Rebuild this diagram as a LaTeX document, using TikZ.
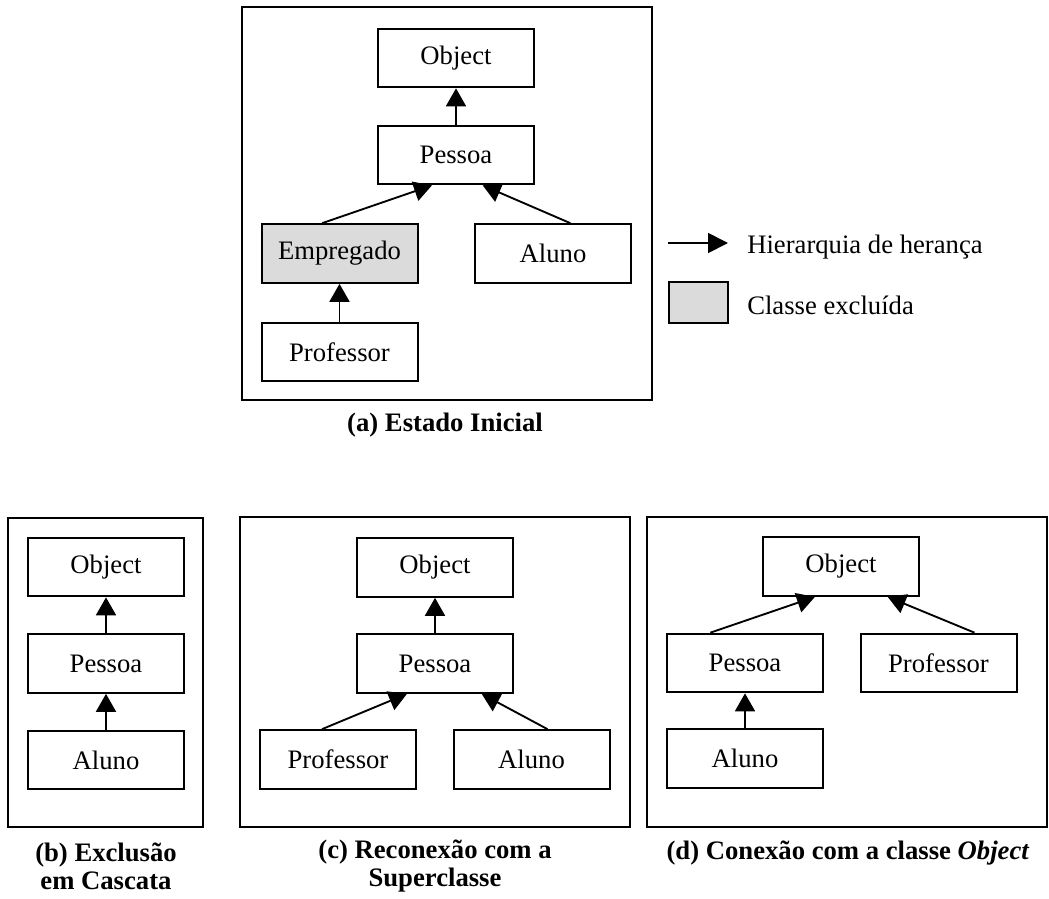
\documentclass[tikz,border=0pt]{standalone}
\usepackage{fontspec}
\setmainfont{Liberation Serif}
\usetikzlibrary{arrows.meta}

\begin{document}
\begin{tikzpicture}[x=0.75pt,y=0.75pt,yscale=-1,xscale=1,
  classbox/.style={draw, line width=1.5pt, minimum width=117pt, minimum height=44pt, inner sep=0pt, font=\fontsize{20}{24}\selectfont},
  deleted/.style={classbox, fill=black!14},
  inherit/.style={line width=1.4pt, -{Triangle[length=13.5pt,width=15pt]}},
  panelframe/.style={line width=1.6pt},
  caption/.style={inner sep=0pt, align=center, font=\fontsize{20}{21}\selectfont\bfseries},
  legendtext/.style={anchor=west, inner sep=0pt, font=\fontsize{20}{24}\selectfont}]
\useasboundingbox (0,0) rectangle (1049,899);

%Panel (a)
\draw [panelframe] (242,7) rectangle (652,400);
\node [classbox] (aObj) at (456,58) {Object};
\node [classbox] (aPes) at (456,155) {Pessoa};
\node [deleted] (aEmp) at (339.5,253.5) {Empregado};
\node [classbox] (aAlu) at (553,253.5) {Aluno};
\node [classbox] (aPro) at (339.5,352) {Professor};
\draw [inherit] (aPes) -- (aObj);
\draw [inherit] ([xshift=-13pt]aEmp.north) -- ([xshift=-18pt]aPes.south);
\draw [inherit] ([xshift=13pt]aAlu.north) -- ([xshift=20pt]aPes.south);
\draw [inherit] (aPro) -- (aEmp);
% Text Node
\node [caption] (capA) at (445,425) {(a) Estado Inicial};

%Legend
\coordinate (legA) at (668,243);
\coordinate (legB) at (728,243);
\draw [line width=1.4pt, -{Triangle[length=15pt,width=15pt]}] (legA) -- (legB);
\node [legendtext] (legArrow) at (747,247) {Hierarquia de herança};
\node [draw, line width=1.5pt, fill=black!14, minimum width=44pt, minimum height=31pt, inner sep=0pt] (legBox) at (698.5,302.5) {};
\node [legendtext] (legDel) at (747,305) {Classe excluída};

%Panel (b)
\draw [panelframe] (8,518) rectangle (203,827);
\node [classbox] (bObj) at (106,567) {Object};
\node [classbox] (bPes) at (106,663.5) {Pessoa};
\node [classbox] (bAlu) at (106,760) {Aluno};
\draw [inherit] (bPes) -- (bObj);
\draw [inherit] (bAlu) -- (bPes);
% Text Node
\node [caption] (capB) at (106,866) {(b) Exclusão\\em Cascata};

%Panel (c)
\draw [panelframe] (240,517) rectangle (630,827);
\node [classbox] (cObj) at (435,567.5) {Object};
\node [classbox] (cPes) at (435,663.5) {Pessoa};
\node [classbox] (cPro) at (338,759.5) {Professor};
\node [classbox] (cAlu) at (531.5,759.5) {Aluno};
\draw [inherit] (cPes) -- (cObj);
\draw [inherit] ([xshift=-12pt]cPro.north) -- ([xshift=-21pt]cPes.south);
\draw [inherit] ([xshift=12pt]cAlu.north) -- ([xshift=35pt]cPes.south);
% Text Node
\node [caption] (capC) at (435,866) {(c) Reconexão com a\\Superclasse};

%Panel (d)
\draw [panelframe] (647,517) rectangle (1047,827);
\node [classbox] (dObj) at (841,566.5) {Object};
\node [classbox] (dPes) at (745,663) {Pessoa};
\node [classbox] (dPro) at (938.5,663) {Professor};
\node [classbox] (dAlu) at (745,758.5) {Aluno};
\draw [inherit] ([xshift=-26pt]dPes.north) -- ([xshift=-19.5pt]dObj.south);
\draw [inherit] ([xshift=27pt]dPro.north) -- ([xshift=35pt]dObj.south);
\draw [inherit] (dAlu) -- (dPes);
% Text Node
\node [caption] (capD) at (848,853) {(d) Conexão com a classe \textit{Object}};
\end{tikzpicture}
\end{document}
